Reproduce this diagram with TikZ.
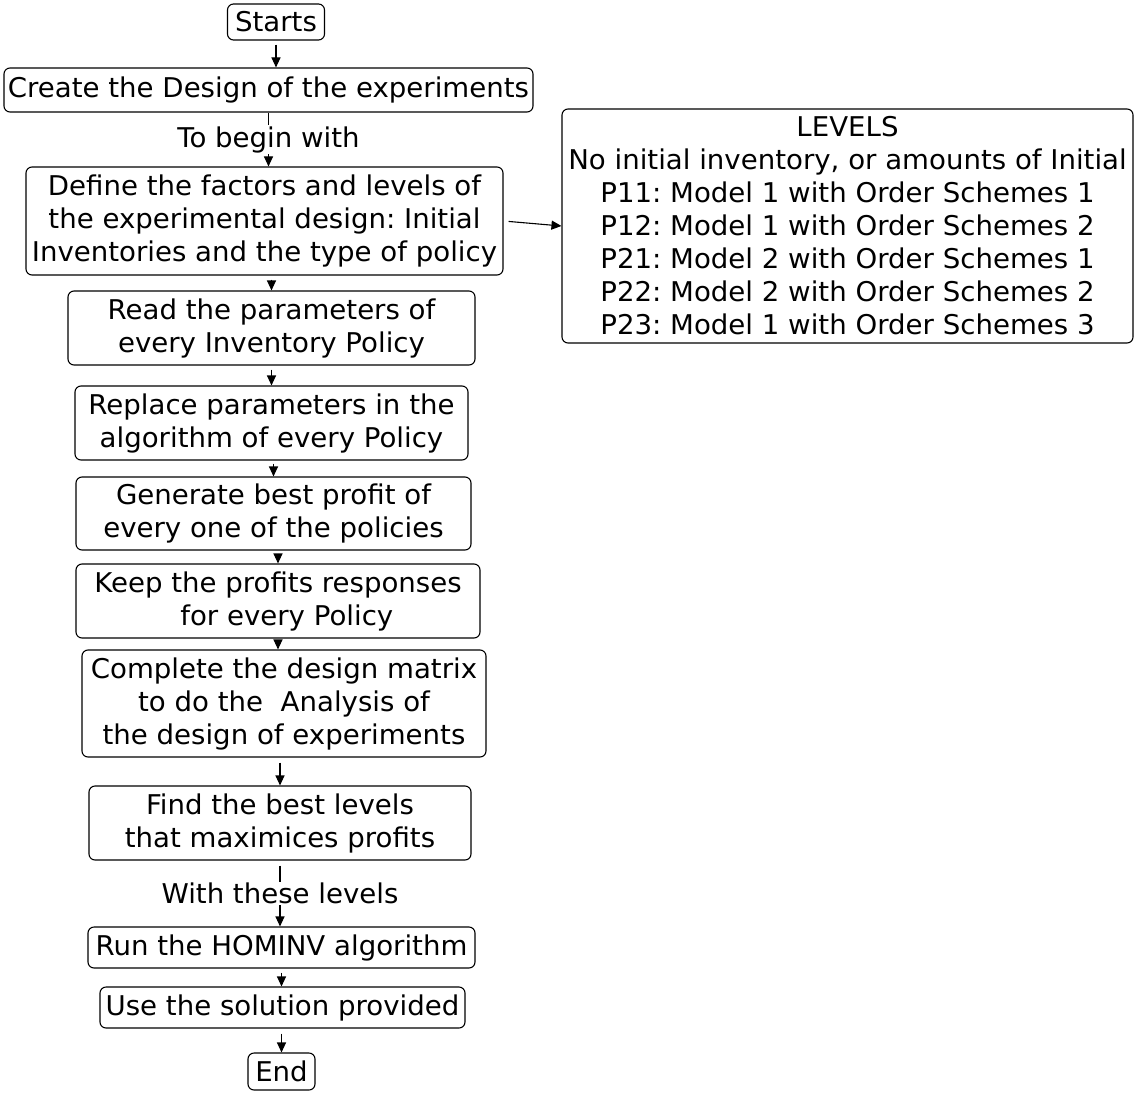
\documentclass[tikz,border=0pt]{standalone}
\usepackage{fontspec}
\setmainfont[FakeStretch=1.015]{DejaVu Sans}
\usetikzlibrary{arrows.meta}
\frenchspacing
\tikzset{
  box/.style={draw, rounded corners=6pt, line width=1.1pt, align=center,
    inner sep=2pt, font=\fontsize{27.2}{33}\selectfont},
  lbl/.style={fill=white, inner sep=1pt, font=\fontsize{27.2}{33}\selectfont},
  arr/.style={line width=1.1pt, -{Triangle[length=10pt,width=9pt]}},
}
\begin{document}
\begin{tikzpicture}[x=1pt, y=-1pt]
\useasboundingbox (0,0) rectangle (1134,1099);
\node[box, minimum width=97pt, minimum height=36pt] (start) at (276,22) {Starts};
\node[box, minimum width=529pt, minimum height=44pt] (create) at (268.5,90) {Create the Design of the experiments};
\node[box, minimum width=477pt, minimum height=108pt] (define) at (264.5,221) {Define the factors and levels of\\the experimental design: Initial\\Inventories and the type of policy};
\node[box, minimum width=571pt, minimum height=234pt] (levels) at (847.5,226) {LEVELS\\No initial inventory, or amounts of Initial\\P11: Model 1 with Order Schemes 1\\P12: Model 1 with Order Schemes 2\\P21: Model 2 with Order Schemes 1\\P22: Model 2 with Order Schemes 2\\P23: Model 1 with Order Schemes 3};
\node[box, minimum width=407pt, minimum height=74pt] (read) at (271.5,328) {Read the parameters of\\every Inventory Policy};
\node[box, minimum width=393pt, minimum height=74pt] (replace) at (271.5,423) {Replace parameters in the\\algorithm of every Policy};
\node[box, minimum width=395pt, minimum height=73pt] (generate) at (273.5,513.5) {Generate best profit of\\every one of the policies};
\node[box, minimum width=404pt, minimum height=74pt] (keep) at (278,601) {Keep the profits responses\\\ \ for every Policy};
\node[box, minimum width=404pt, minimum height=107pt] (complete) at (284,703.5) {Complete the design matrix\\to do the\ \ Analysis of\\the design of experiments};
\node[box, minimum width=382pt, minimum height=74pt] (find) at (280,823) {Find the best levels\\that maximices profits};
\node[box, minimum width=387pt, minimum height=41pt] (run) at (281.5,947.5) {Run the HOMINV algorithm};
\node[box, minimum width=365pt, minimum height=41pt] (use) at (282.5,1007.5) {Use the solution provided};
\node[box, minimum width=67pt, minimum height=37pt] (end) at (281.5,1071.5) {End};

\draw[arr, shorten <=4pt] (start.south) -- (create.north -| start.south);
\draw[arr] (create.south) -- node[lbl] {To begin with} (define.north -| create.south);
\draw[arr, shorten <=5pt] (define.east) -- (levels.west);
\draw[arr, shorten <=4pt] (read.north |- define.south) -- (read.north);
\draw[arr, shorten <=4pt] (replace.north |- read.south) -- (replace.north);
\draw[arr, shorten <=3pt] (generate.north |- replace.south) -- (generate.north);
\draw[arr, shorten <=3pt] (keep.north |- generate.south) -- (keep.north);
\draw[arr, shorten <=2pt] (keep.south) -- (keep.south |- complete.north);
\draw[arr, shorten <=5pt] (find.north |- complete.south) -- (find.north);
\draw[arr, shorten <=5pt] (find.south) -- node[lbl] {With these levels} (run.north -| find.south);
\draw[arr, shorten <=4pt] (run.south) -- (use.north -| run.south);
\draw[arr, shorten <=5pt] (use.south -| end.north) -- (end.north);
\end{tikzpicture}
\end{document}
